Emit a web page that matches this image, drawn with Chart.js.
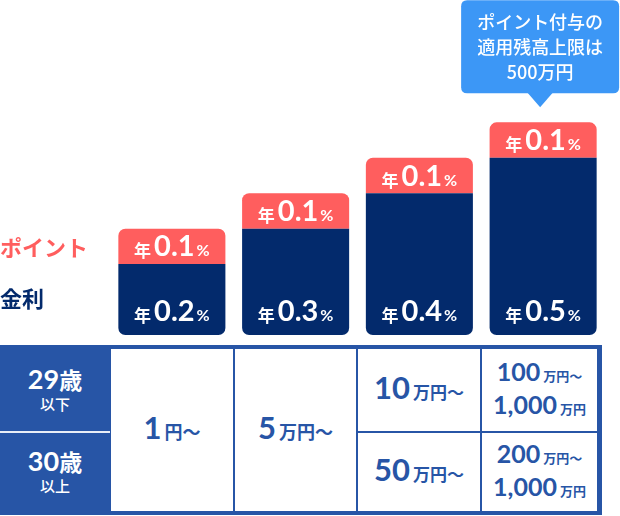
<!DOCTYPE html>
<html lang="ja">
<head>
<meta charset="utf-8">
<script src="https://cdn.jsdelivr.net/npm/chart.js@4.4.1/dist/chart.umd.min.js"></script>
<style>
  body { margin: 0; background: #fff; font-family: 'Noto Sans CJK JP', sans-serif; }
  #wrap { position: relative; width: 620px; height: 516px; overflow: hidden; }
  #rateChart { position: absolute; left: 0; top: 0; }
  #table { position: absolute; left: 0; top: 345px; width: 602px; height: 170px; background: #2755a6; }
  .hd { position: absolute; left: 0; width: 110px; color: #fff; display: flex; flex-direction: column; align-items: center; justify-content: center; }
  .hd .age { font-family: 'Lato', 'Noto Sans CJK JP', sans-serif; font-weight: 700; font-size: 27px; line-height: 28px; white-space: nowrap; }
  .hd .age span { font-family: 'Noto Sans CJK JP', sans-serif; font-size: 23px; }
  .hd .sub { font-size: 15px; line-height: 22px; font-weight: 500; }
  .sep { position: absolute; left: 0; width: 110px; top: 86px; height: 2px; background: #e9eef7; }
  .cell { position: absolute; background: #fff; color: #2755a6; display: flex; flex-direction: column; align-items: center; justify-content: center; font-weight: 700; }
  .num { font-family: 'Lato', sans-serif; font-weight: 700; }
  .unit { font-family: 'Noto Sans CJK JP', sans-serif; font-weight: 700; }
</style>
</head>
<body>
<div id="wrap">
  <canvas id="rateChart" width="620" height="345"></canvas>
  <div id="table"></div>
</div>
<script>
// --- DATA ---
const categories = ['1円〜', '5万円〜', '10万円〜', '100万円〜'];
const interestRates = [0.2, 0.3, 0.4, 0.5];
const pointRates = [0.1, 0.1, 0.1, 0.1];

const ageLabels = ['29', '30'];
const ageSubLabels = ['以下', '以上'];
const tierMin29 = ['1円', '5万円', '10万円', '100万円'];
const tierMin30 = ['1円', '5万円', '50万円', '200万円'];
const tierMax = ['', '', '', '1,000万円'];

const calloutLines = ['ポイント付与の', '適用残高上限は', '500万円'];

// --- COLORS ---
const NAVY = '#032a6c';
const PINK = '#ff5e5e';
const CALLOUT_BLUE = '#3c97f6';

const JP = "'Noto Sans CJK JP', sans-serif";
const NUM = "'Lato', sans-serif";

// draws "年0.1%" with mixed sizes, centred on (cx, cy)
function drawRate(ctx, cx, cy, value) {
  const parts = [
    { t: '年', font: '700 17px ' + JP, gap: 3, dy: 1 },
    { t: value.toFixed(1), font: '700 29px ' + NUM, gap: 2, dy: 0 },
    { t: '%', font: '700 16px ' + NUM, gap: 0, dy: 0 }
  ];
  let total = 0;
  parts.forEach(p => { ctx.font = p.font; p.w = ctx.measureText(p.t).width; total += p.w + p.gap; });
  let x = cx - total / 2;
  const baseline = cy + 10;
  ctx.fillStyle = '#fff';
  ctx.textAlign = 'left';
  ctx.textBaseline = 'alphabetic';
  parts.forEach(p => {
    ctx.font = p.font;
    ctx.fillText(p.t, x, baseline + p.dy);
    x += p.w + p.gap;
  });
}

function roundRect(ctx, x, y, w, h, r) {
  ctx.beginPath();
  ctx.moveTo(x + r, y);
  ctx.lineTo(x + w - r, y);
  ctx.quadraticCurveTo(x + w, y, x + w, y + r);
  ctx.lineTo(x + w, y + h - r);
  ctx.quadraticCurveTo(x + w, y + h, x + w - r, y + h);
  ctx.lineTo(x + r, y + h);
  ctx.quadraticCurveTo(x, y + h, x, y + h - r);
  ctx.lineTo(x, y + r);
  ctx.quadraticCurveTo(x, y, x + r, y);
  ctx.closePath();
}

const overlayPlugin = {
  id: 'overlay',
  afterDatasetsDraw(chart) {
    const ctx = chart.ctx;
    const navyMeta = chart.getDatasetMeta(0);
    const pinkMeta = chart.getDatasetMeta(1);

    navyMeta.data.forEach((bar, i) => {
      drawRate(ctx, bar.x, bar.base - 24, interestRates[i]);
      const pink = pinkMeta.data[i];
      drawRate(ctx, pink.x, (pink.y + pink.base) / 2, pointRates[i]);
    });

    // side labels, aligned to the first bar
    const p0 = pinkMeta.data[0];
    const n0 = navyMeta.data[0];
    ctx.textAlign = 'left';
    ctx.textBaseline = 'middle';
    ctx.font = '700 22px ' + JP;
    ctx.fillStyle = PINK;
    ctx.fillText(chart.data.datasets[1].label, 0, (p0.y + p0.base) / 2 + 1);
    ctx.fillStyle = NAVY;
    ctx.fillText(chart.data.datasets[0].label, 0, (n0.y + n0.base) / 2 - 1);

    // callout above the last bar
    const last = pinkMeta.data[pinkMeta.data.length - 1];
    const tipY = last.y - 15;
    const boxBottom = tipY - 14;
    const boxTop = boxBottom - 93;
    const cx = last.x - 3;
    ctx.fillStyle = CALLOUT_BLUE;
    roundRect(ctx, cx - 79, boxTop, 158, 93, 6);
    ctx.fill();
    ctx.beginPath();
    ctx.moveTo(cx - 13, boxBottom - 1);
    ctx.lineTo(cx + 13, boxBottom - 1);
    ctx.lineTo(cx, tipY);
    ctx.closePath();
    ctx.fill();
    ctx.fillStyle = '#fff';
    ctx.textAlign = 'center';
    ctx.textBaseline = 'middle';
    ctx.font = '500 18px ' + JP;
    calloutLines.forEach((line, i) => ctx.fillText(line, cx, boxTop + 22 + i * 25));
  }
};

new Chart(document.getElementById('rateChart').getContext('2d'), {
  type: 'bar',
  data: {
    labels: categories,
    datasets: [
      {
        label: '金利',
        data: interestRates,
        backgroundColor: NAVY,
        borderRadius: { topLeft: 0, topRight: 0, bottomLeft: 7, bottomRight: 7 },
        borderSkipped: false,
        barPercentage: 0.865,
        categoryPercentage: 1
      },
      {
        label: 'ポイント',
        data: pointRates,
        backgroundColor: PINK,
        borderRadius: { topLeft: 7, topRight: 7, bottomLeft: 0, bottomRight: 0 },
        borderSkipped: false,
        barPercentage: 0.865,
        categoryPercentage: 1
      }
    ]
  },
  options: {
    responsive: false,
    animation: false,
    devicePixelRatio: 1,
    layout: { padding: { top: 16, bottom: 10, left: 110, right: 15 } },
    plugins: { legend: { display: false }, tooltip: { enabled: false } },
    scales: {
      x: { stacked: true, display: false },
      y: { stacked: true, display: false, min: 0, max: 0.9 }
    }
  },
  plugins: [overlayPlugin]
});

// --- TABLE ---
const table = document.getElementById('table');

function splitAmount(s) {
  const m = s.match(/^([\d,]+)(.*)$/);
  return { num: m[1], unit: m[2] };
}

function amountHtml(s, numSize, unitSize, tilde) {
  const a = splitAmount(s);
  return `<div style="line-height:${numSize + 4}px;white-space:nowrap"><span class="num" style="font-size:${numSize}px">${a.num}</span>` +
    `<span class="unit" style="font-size:${unitSize}px;margin-left:3px">${a.unit}${tilde ? '〜' : ''}</span></div>`;
}

function addCell(left, top, width, height, html) {
  const d = document.createElement('div');
  d.className = 'cell';
  Object.assign(d.style, { left: left + 'px', top: top + 'px', width: width + 'px', height: height + 'px' });
  d.innerHTML = html;
  table.appendChild(d);
}

// header column
ageLabels.forEach((age, i) => {
  const d = document.createElement('div');
  d.className = 'hd';
  Object.assign(d.style, { top: (i === 0 ? 4 : 88) + 'px', height: (i === 0 ? 82 : 78) + 'px' });
  d.innerHTML = `<div class="age">${age}<span>歳</span></div><div class="sub">${ageSubLabels[i]}</div>`;
  table.appendChild(d);
});
const sep = document.createElement('div');
sep.className = 'sep';
table.appendChild(sep);

const colLeft = [111, 235, 358, 482];
const colWidth = [122, 121, 122, 115];
categories.forEach((c, i) => {
  if (tierMin29[i] === tierMin30[i]) {
    addCell(colLeft[i], 4, colWidth[i], 162, amountHtml(tierMin29[i], 31, 18, true));
  } else if (!tierMax[i]) {
    addCell(colLeft[i], 4, colWidth[i], 82, amountHtml(tierMin29[i], 31, 17, true));
    addCell(colLeft[i], 88, colWidth[i], 78, amountHtml(tierMin30[i], 31, 17, true));
  } else {
    addCell(colLeft[i], 4, colWidth[i], 82, amountHtml(tierMin29[i], 25, 13, true) + amountHtml(tierMax[i], 25, 13, false));
    addCell(colLeft[i], 88, colWidth[i], 78, amountHtml(tierMin30[i], 25, 13, true) + amountHtml(tierMax[i], 25, 13, false));
  }
});
</script>
</body>
</html>
